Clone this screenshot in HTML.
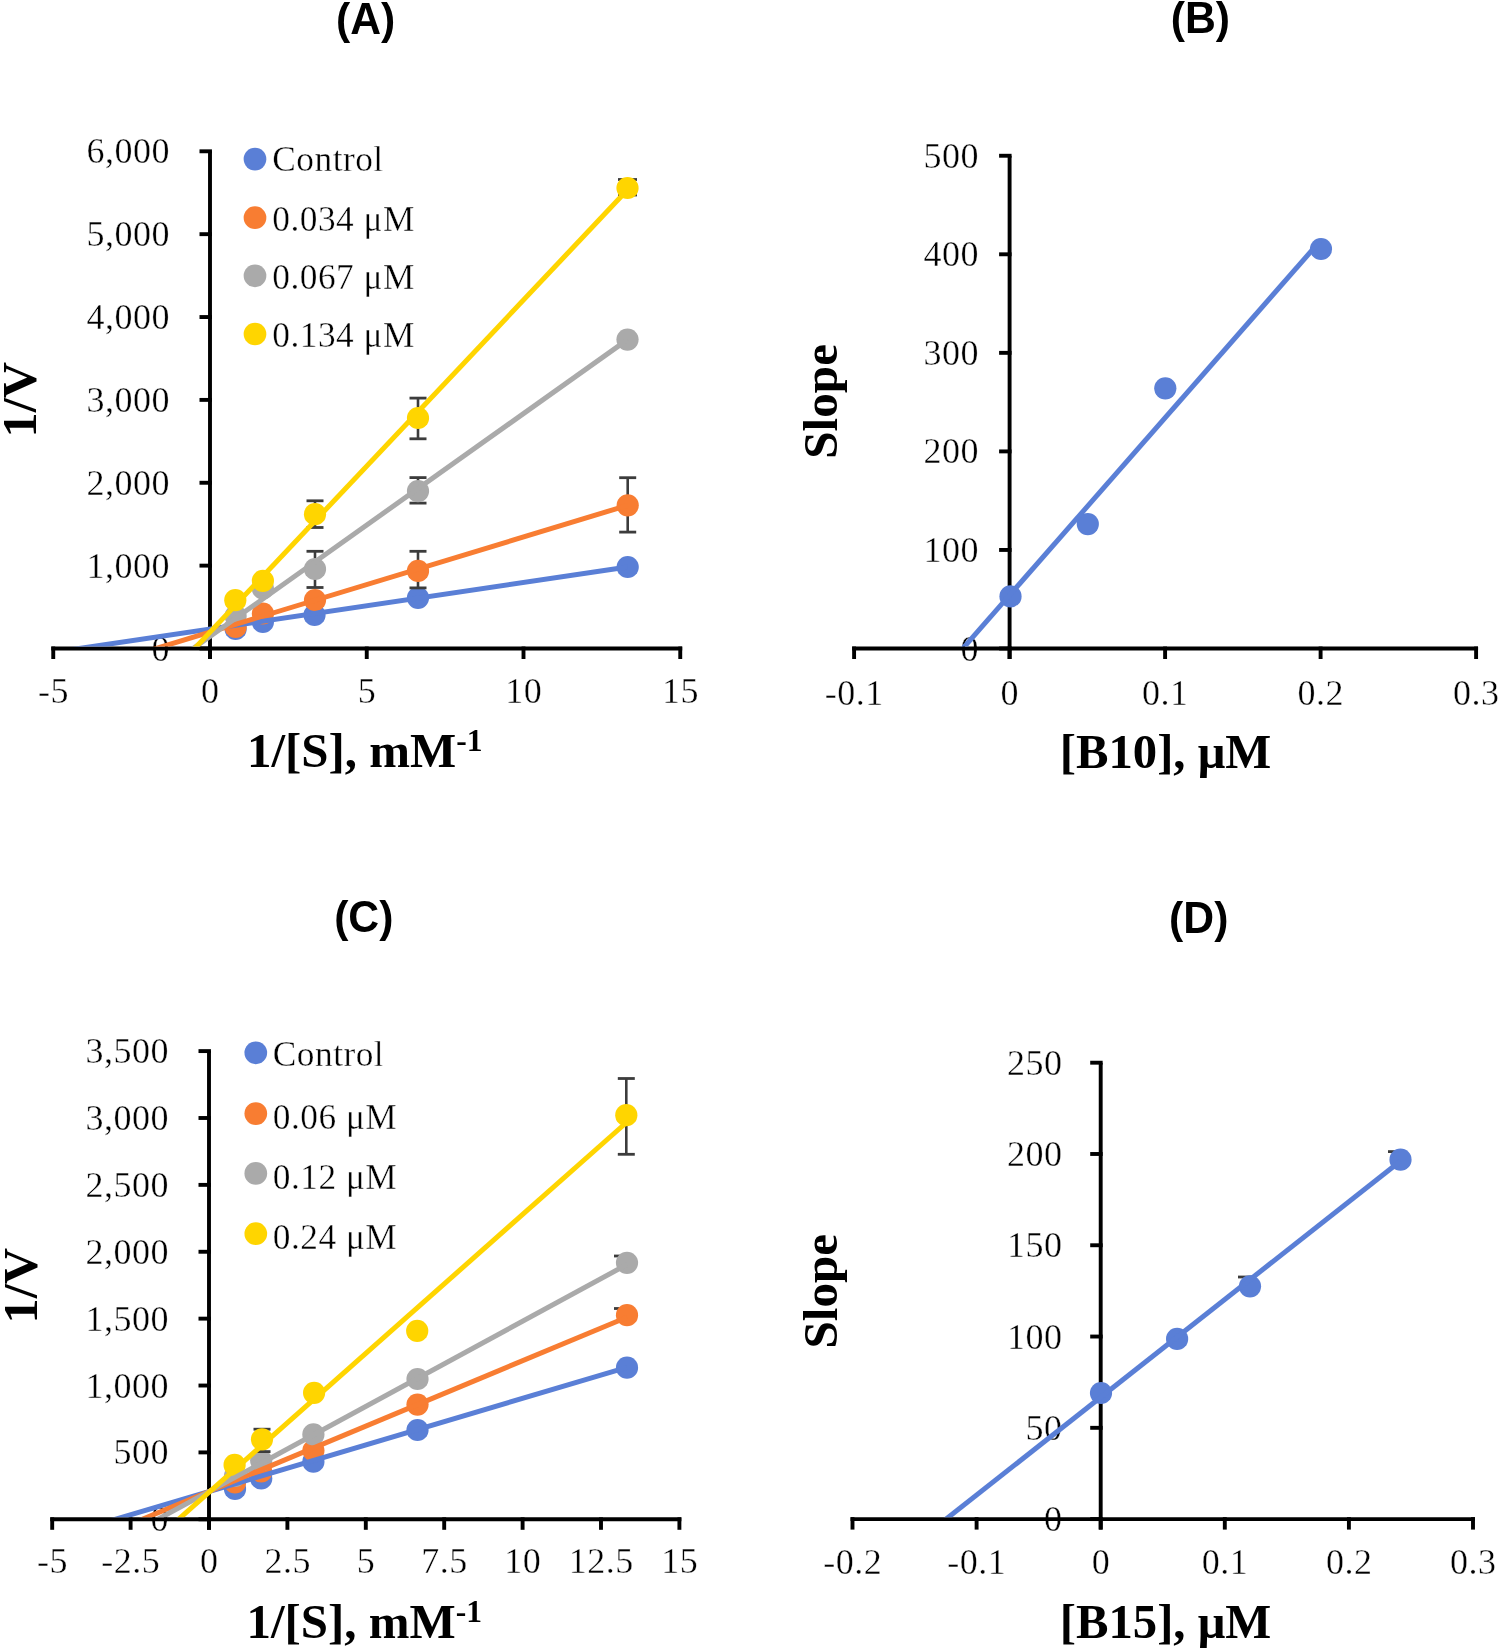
<!DOCTYPE html><html><head><meta charset="utf-8"><style>html,body{margin:0;padding:0;background:#fff;overflow:hidden;}svg{display:block;will-change:transform}</style></head><body>
<svg width="1499" height="1652" viewBox="0 0 1499 1652">
<rect width="1499" height="1652" fill="#fff"/>
<text transform="translate(365.60,33.50) scale(0.95,1)" font-family="'Liberation Sans', sans-serif" font-size="45" text-anchor="middle" font-weight="bold">(A)</text>
<text transform="translate(1200.40,33.00) scale(0.95,1)" font-family="'Liberation Sans', sans-serif" font-size="45" text-anchor="middle" font-weight="bold">(B)</text>
<text transform="translate(363.80,932.30) scale(0.95,1)" font-family="'Liberation Sans', sans-serif" font-size="45" text-anchor="middle" font-weight="bold">(C)</text>
<text transform="translate(1198.70,932.70) scale(0.95,1)" font-family="'Liberation Sans', sans-serif" font-size="45" text-anchor="middle" font-weight="bold">(D)</text>
<text transform="translate(170.00,660.50) scale(1.02,1)" font-family="'Liberation Serif', serif" font-size="35.3" text-anchor="end" letter-spacing="0.5" stroke="#fff" stroke-width="0.35">0</text>
<text transform="translate(170.00,577.63) scale(1.02,1)" font-family="'Liberation Serif', serif" font-size="35.3" text-anchor="end" letter-spacing="0.5" stroke="#fff" stroke-width="0.35">1,000</text>
<text transform="translate(170.00,494.77) scale(1.02,1)" font-family="'Liberation Serif', serif" font-size="35.3" text-anchor="end" letter-spacing="0.5" stroke="#fff" stroke-width="0.35">2,000</text>
<text transform="translate(170.00,411.90) scale(1.02,1)" font-family="'Liberation Serif', serif" font-size="35.3" text-anchor="end" letter-spacing="0.5" stroke="#fff" stroke-width="0.35">3,000</text>
<text transform="translate(170.00,329.03) scale(1.02,1)" font-family="'Liberation Serif', serif" font-size="35.3" text-anchor="end" letter-spacing="0.5" stroke="#fff" stroke-width="0.35">4,000</text>
<text transform="translate(170.00,246.17) scale(1.02,1)" font-family="'Liberation Serif', serif" font-size="35.3" text-anchor="end" letter-spacing="0.5" stroke="#fff" stroke-width="0.35">5,000</text>
<text transform="translate(170.00,163.30) scale(1.02,1)" font-family="'Liberation Serif', serif" font-size="35.3" text-anchor="end" letter-spacing="0.5" stroke="#fff" stroke-width="0.35">6,000</text>
<text transform="translate(53.50,703.00) scale(1.02,1)" font-family="'Liberation Serif', serif" font-size="35.3" text-anchor="middle" letter-spacing="0.5" stroke="#fff" stroke-width="0.35">-5</text>
<text transform="translate(210.25,703.00) scale(1.02,1)" font-family="'Liberation Serif', serif" font-size="35.3" text-anchor="middle" letter-spacing="0.5" stroke="#fff" stroke-width="0.35">0</text>
<text transform="translate(367.00,703.00) scale(1.02,1)" font-family="'Liberation Serif', serif" font-size="35.3" text-anchor="middle" letter-spacing="0.5" stroke="#fff" stroke-width="0.35">5</text>
<text transform="translate(523.75,703.00) scale(1.02,1)" font-family="'Liberation Serif', serif" font-size="35.3" text-anchor="middle" letter-spacing="0.5" stroke="#fff" stroke-width="0.35">10</text>
<text transform="translate(680.50,703.00) scale(1.02,1)" font-family="'Liberation Serif', serif" font-size="35.3" text-anchor="middle" letter-spacing="0.5" stroke="#fff" stroke-width="0.35">15</text>
<line x1="210.00" y1="151.30" x2="210.00" y2="659.00" stroke="#000" stroke-width="3.9" stroke-linecap="butt"/>
<line x1="199.50" y1="648.50" x2="211.95" y2="648.50" stroke="#000" stroke-width="3.9" stroke-linecap="butt"/>
<line x1="199.50" y1="565.63" x2="211.95" y2="565.63" stroke="#000" stroke-width="3.9" stroke-linecap="butt"/>
<line x1="199.50" y1="482.77" x2="211.95" y2="482.77" stroke="#000" stroke-width="3.9" stroke-linecap="butt"/>
<line x1="199.50" y1="399.90" x2="211.95" y2="399.90" stroke="#000" stroke-width="3.9" stroke-linecap="butt"/>
<line x1="199.50" y1="317.03" x2="211.95" y2="317.03" stroke="#000" stroke-width="3.9" stroke-linecap="butt"/>
<line x1="199.50" y1="234.17" x2="211.95" y2="234.17" stroke="#000" stroke-width="3.9" stroke-linecap="butt"/>
<line x1="199.50" y1="151.30" x2="211.95" y2="151.30" stroke="#000" stroke-width="3.9" stroke-linecap="butt"/>
<line x1="51.30" y1="648.50" x2="682.20" y2="648.50" stroke="#000" stroke-width="3.9" stroke-linecap="butt"/>
<line x1="53.25" y1="646.55" x2="53.25" y2="659.00" stroke="#000" stroke-width="3.9" stroke-linecap="butt"/>
<line x1="210.00" y1="646.55" x2="210.00" y2="659.00" stroke="#000" stroke-width="3.9" stroke-linecap="butt"/>
<line x1="366.75" y1="646.55" x2="366.75" y2="659.00" stroke="#000" stroke-width="3.9" stroke-linecap="butt"/>
<line x1="523.50" y1="646.55" x2="523.50" y2="659.00" stroke="#000" stroke-width="3.9" stroke-linecap="butt"/>
<line x1="680.25" y1="646.55" x2="680.25" y2="659.00" stroke="#000" stroke-width="3.9" stroke-linecap="butt"/>
<clipPath id="cA"><rect x="0" y="0" width="1499" height="646.55"/></clipPath>
<circle cx="235.60" cy="629.00" r="11.1" fill="#5a7fd6"/>
<circle cx="262.90" cy="622.00" r="11.1" fill="#5a7fd6"/>
<circle cx="314.50" cy="615.00" r="11.1" fill="#5a7fd6"/>
<circle cx="418.00" cy="597.80" r="11.1" fill="#5a7fd6"/>
<circle cx="627.70" cy="567.00" r="11.1" fill="#5a7fd6"/>
<line x1="627.70" y1="477.70" x2="627.70" y2="532.10" stroke="#3c3c3c" stroke-width="2.6" stroke-linecap="butt"/>
<line x1="619.20" y1="477.70" x2="636.20" y2="477.70" stroke="#3c3c3c" stroke-width="2.8" stroke-linecap="butt"/>
<line x1="619.20" y1="532.10" x2="636.20" y2="532.10" stroke="#3c3c3c" stroke-width="2.8" stroke-linecap="butt"/>
<line x1="418.00" y1="551.30" x2="418.00" y2="587.90" stroke="#3c3c3c" stroke-width="2.6" stroke-linecap="butt"/>
<line x1="409.50" y1="551.30" x2="426.50" y2="551.30" stroke="#3c3c3c" stroke-width="2.8" stroke-linecap="butt"/>
<line x1="409.50" y1="587.90" x2="426.50" y2="587.90" stroke="#3c3c3c" stroke-width="2.8" stroke-linecap="butt"/>
<circle cx="235.60" cy="627.00" r="11.1" fill="#f87d32"/>
<circle cx="262.90" cy="613.50" r="11.1" fill="#f87d32"/>
<circle cx="315.00" cy="600.00" r="11.1" fill="#f87d32"/>
<circle cx="418.00" cy="570.90" r="11.1" fill="#f87d32"/>
<circle cx="627.70" cy="505.30" r="11.1" fill="#f87d32"/>
<line x1="418.00" y1="477.60" x2="418.00" y2="503.10" stroke="#3c3c3c" stroke-width="2.6" stroke-linecap="butt"/>
<line x1="409.50" y1="477.60" x2="426.50" y2="477.60" stroke="#3c3c3c" stroke-width="2.8" stroke-linecap="butt"/>
<line x1="409.50" y1="503.10" x2="426.50" y2="503.10" stroke="#3c3c3c" stroke-width="2.8" stroke-linecap="butt"/>
<line x1="315.00" y1="551.30" x2="315.00" y2="587.50" stroke="#3c3c3c" stroke-width="2.6" stroke-linecap="butt"/>
<line x1="306.50" y1="551.30" x2="323.50" y2="551.30" stroke="#3c3c3c" stroke-width="2.8" stroke-linecap="butt"/>
<line x1="306.50" y1="587.50" x2="323.50" y2="587.50" stroke="#3c3c3c" stroke-width="2.8" stroke-linecap="butt"/>
<circle cx="235.60" cy="616.00" r="11.1" fill="#aaaaaa"/>
<circle cx="262.90" cy="588.50" r="11.1" fill="#aaaaaa"/>
<circle cx="315.00" cy="569.00" r="11.1" fill="#aaaaaa"/>
<circle cx="418.00" cy="491.10" r="11.1" fill="#aaaaaa"/>
<circle cx="627.50" cy="339.60" r="11.1" fill="#aaaaaa"/>
<line x1="627.50" y1="179.50" x2="627.50" y2="195.00" stroke="#3c3c3c" stroke-width="2.6" stroke-linecap="butt"/>
<line x1="618.00" y1="179.50" x2="637.00" y2="179.50" stroke="#3c3c3c" stroke-width="2.8" stroke-linecap="butt"/>
<line x1="618.00" y1="195.00" x2="637.00" y2="195.00" stroke="#3c3c3c" stroke-width="2.8" stroke-linecap="butt"/>
<line x1="418.00" y1="398.10" x2="418.00" y2="438.80" stroke="#3c3c3c" stroke-width="2.6" stroke-linecap="butt"/>
<line x1="409.50" y1="398.10" x2="426.50" y2="398.10" stroke="#3c3c3c" stroke-width="2.8" stroke-linecap="butt"/>
<line x1="409.50" y1="438.80" x2="426.50" y2="438.80" stroke="#3c3c3c" stroke-width="2.8" stroke-linecap="butt"/>
<line x1="315.00" y1="500.80" x2="315.00" y2="527.50" stroke="#3c3c3c" stroke-width="2.6" stroke-linecap="butt"/>
<line x1="306.50" y1="500.80" x2="323.50" y2="500.80" stroke="#3c3c3c" stroke-width="2.8" stroke-linecap="butt"/>
<line x1="306.50" y1="527.50" x2="323.50" y2="527.50" stroke="#3c3c3c" stroke-width="2.8" stroke-linecap="butt"/>
<circle cx="235.30" cy="600.20" r="11.1" fill="#ffd500"/>
<circle cx="262.90" cy="580.80" r="11.1" fill="#ffd500"/>
<circle cx="315.00" cy="514.20" r="11.1" fill="#ffd500"/>
<circle cx="418.00" cy="418.00" r="11.1" fill="#ffd500"/>
<circle cx="627.50" cy="188.00" r="11.1" fill="#ffd500"/>
<line x1="25.14" y1="656.50" x2="627.70" y2="567.00" stroke="#5a7fd6" stroke-width="5.0" stroke-linecap="butt" clip-path="url(#cA)"/>
<line x1="129.65" y1="656.50" x2="627.70" y2="505.30" stroke="#f87d32" stroke-width="5.0" stroke-linecap="butt" clip-path="url(#cA)"/>
<line x1="181.85" y1="656.50" x2="627.50" y2="339.60" stroke="#aaaaaa" stroke-width="5.0" stroke-linecap="butt" clip-path="url(#cA)"/>
<line x1="187.05" y1="656.50" x2="627.50" y2="189.80" stroke="#ffd500" stroke-width="5.0" stroke-linecap="butt" clip-path="url(#cA)"/>
<circle cx="255.00" cy="159.10" r="11.35" fill="#5a7fd6"/>
<text transform="translate(272.30,170.80) scale(1.0,1)" font-family="'Liberation Serif', serif" font-size="35.3" text-anchor="start" letter-spacing="0.5" stroke="#fff" stroke-width="0.35">Control</text>
<circle cx="255.00" cy="217.70" r="11.35" fill="#f87d32"/>
<text transform="translate(272.30,230.90) scale(1.0,1)" font-family="'Liberation Serif', serif" font-size="35.3" text-anchor="start" letter-spacing="0.5" stroke="#fff" stroke-width="0.35">0.034 μM</text>
<circle cx="255.00" cy="275.80" r="11.35" fill="#aaaaaa"/>
<text transform="translate(272.30,289.30) scale(1.0,1)" font-family="'Liberation Serif', serif" font-size="35.3" text-anchor="start" letter-spacing="0.5" stroke="#fff" stroke-width="0.35">0.067 μM</text>
<circle cx="255.00" cy="334.00" r="11.35" fill="#ffd500"/>
<text transform="translate(272.30,347.30) scale(1.0,1)" font-family="'Liberation Serif', serif" font-size="35.3" text-anchor="start" letter-spacing="0.5" stroke="#fff" stroke-width="0.35">0.134 μM</text>
<text transform="translate(364.80,767.20) scale(1.02,1)" font-family="'Liberation Serif', serif" font-size="48" text-anchor="middle" font-weight="bold">1/[S], mM<tspan font-size="31" dy="-16">-1</tspan></text>
<text transform="translate(35.80,399.60) rotate(-90) scale(1.05,1)" font-family="'Liberation Serif', serif" font-size="48" text-anchor="middle" font-weight="bold">1/V</text>
<text transform="translate(169.00,1531.30) scale(1.02,1)" font-family="'Liberation Serif', serif" font-size="35.3" text-anchor="end" letter-spacing="0.5" stroke="#fff" stroke-width="0.35">0</text>
<text transform="translate(169.00,1464.41) scale(1.02,1)" font-family="'Liberation Serif', serif" font-size="35.3" text-anchor="end" letter-spacing="0.5" stroke="#fff" stroke-width="0.35">500</text>
<text transform="translate(169.00,1397.53) scale(1.02,1)" font-family="'Liberation Serif', serif" font-size="35.3" text-anchor="end" letter-spacing="0.5" stroke="#fff" stroke-width="0.35">1,000</text>
<text transform="translate(169.00,1330.64) scale(1.02,1)" font-family="'Liberation Serif', serif" font-size="35.3" text-anchor="end" letter-spacing="0.5" stroke="#fff" stroke-width="0.35">1,500</text>
<text transform="translate(169.00,1263.76) scale(1.02,1)" font-family="'Liberation Serif', serif" font-size="35.3" text-anchor="end" letter-spacing="0.5" stroke="#fff" stroke-width="0.35">2,000</text>
<text transform="translate(169.00,1196.87) scale(1.02,1)" font-family="'Liberation Serif', serif" font-size="35.3" text-anchor="end" letter-spacing="0.5" stroke="#fff" stroke-width="0.35">2,500</text>
<text transform="translate(169.00,1129.99) scale(1.02,1)" font-family="'Liberation Serif', serif" font-size="35.3" text-anchor="end" letter-spacing="0.5" stroke="#fff" stroke-width="0.35">3,000</text>
<text transform="translate(169.00,1063.10) scale(1.02,1)" font-family="'Liberation Serif', serif" font-size="35.3" text-anchor="end" letter-spacing="0.5" stroke="#fff" stroke-width="0.35">3,500</text>
<text transform="translate(52.45,1573.20) scale(1.02,1)" font-family="'Liberation Serif', serif" font-size="35.3" text-anchor="middle" letter-spacing="0.5" stroke="#fff" stroke-width="0.35">-5</text>
<text transform="translate(130.85,1573.20) scale(1.02,1)" font-family="'Liberation Serif', serif" font-size="35.3" text-anchor="middle" letter-spacing="0.5" stroke="#fff" stroke-width="0.35">-2.5</text>
<text transform="translate(209.25,1573.20) scale(1.02,1)" font-family="'Liberation Serif', serif" font-size="35.3" text-anchor="middle" letter-spacing="0.5" stroke="#fff" stroke-width="0.35">0</text>
<text transform="translate(287.65,1573.20) scale(1.02,1)" font-family="'Liberation Serif', serif" font-size="35.3" text-anchor="middle" letter-spacing="0.5" stroke="#fff" stroke-width="0.35">2.5</text>
<text transform="translate(366.05,1573.20) scale(1.02,1)" font-family="'Liberation Serif', serif" font-size="35.3" text-anchor="middle" letter-spacing="0.5" stroke="#fff" stroke-width="0.35">5</text>
<text transform="translate(444.45,1573.20) scale(1.02,1)" font-family="'Liberation Serif', serif" font-size="35.3" text-anchor="middle" letter-spacing="0.5" stroke="#fff" stroke-width="0.35">7.5</text>
<text transform="translate(522.85,1573.20) scale(1.02,1)" font-family="'Liberation Serif', serif" font-size="35.3" text-anchor="middle" letter-spacing="0.5" stroke="#fff" stroke-width="0.35">10</text>
<text transform="translate(601.25,1573.20) scale(1.02,1)" font-family="'Liberation Serif', serif" font-size="35.3" text-anchor="middle" letter-spacing="0.5" stroke="#fff" stroke-width="0.35">12.5</text>
<text transform="translate(679.65,1573.20) scale(1.02,1)" font-family="'Liberation Serif', serif" font-size="35.3" text-anchor="middle" letter-spacing="0.5" stroke="#fff" stroke-width="0.35">15</text>
<line x1="209.00" y1="1051.10" x2="209.00" y2="1529.80" stroke="#000" stroke-width="3.9" stroke-linecap="butt"/>
<line x1="198.50" y1="1519.30" x2="210.95" y2="1519.30" stroke="#000" stroke-width="3.9" stroke-linecap="butt"/>
<line x1="198.50" y1="1452.41" x2="210.95" y2="1452.41" stroke="#000" stroke-width="3.9" stroke-linecap="butt"/>
<line x1="198.50" y1="1385.53" x2="210.95" y2="1385.53" stroke="#000" stroke-width="3.9" stroke-linecap="butt"/>
<line x1="198.50" y1="1318.64" x2="210.95" y2="1318.64" stroke="#000" stroke-width="3.9" stroke-linecap="butt"/>
<line x1="198.50" y1="1251.76" x2="210.95" y2="1251.76" stroke="#000" stroke-width="3.9" stroke-linecap="butt"/>
<line x1="198.50" y1="1184.87" x2="210.95" y2="1184.87" stroke="#000" stroke-width="3.9" stroke-linecap="butt"/>
<line x1="198.50" y1="1117.99" x2="210.95" y2="1117.99" stroke="#000" stroke-width="3.9" stroke-linecap="butt"/>
<line x1="198.50" y1="1051.10" x2="210.95" y2="1051.10" stroke="#000" stroke-width="3.9" stroke-linecap="butt"/>
<line x1="50.25" y1="1519.30" x2="681.35" y2="1519.30" stroke="#000" stroke-width="3.9" stroke-linecap="butt"/>
<line x1="52.20" y1="1517.35" x2="52.20" y2="1529.80" stroke="#000" stroke-width="3.9" stroke-linecap="butt"/>
<line x1="130.60" y1="1517.35" x2="130.60" y2="1529.80" stroke="#000" stroke-width="3.9" stroke-linecap="butt"/>
<line x1="209.00" y1="1517.35" x2="209.00" y2="1529.80" stroke="#000" stroke-width="3.9" stroke-linecap="butt"/>
<line x1="287.40" y1="1517.35" x2="287.40" y2="1529.80" stroke="#000" stroke-width="3.9" stroke-linecap="butt"/>
<line x1="365.80" y1="1517.35" x2="365.80" y2="1529.80" stroke="#000" stroke-width="3.9" stroke-linecap="butt"/>
<line x1="444.20" y1="1517.35" x2="444.20" y2="1529.80" stroke="#000" stroke-width="3.9" stroke-linecap="butt"/>
<line x1="522.60" y1="1517.35" x2="522.60" y2="1529.80" stroke="#000" stroke-width="3.9" stroke-linecap="butt"/>
<line x1="601.00" y1="1517.35" x2="601.00" y2="1529.80" stroke="#000" stroke-width="3.9" stroke-linecap="butt"/>
<line x1="679.40" y1="1517.35" x2="679.40" y2="1529.80" stroke="#000" stroke-width="3.9" stroke-linecap="butt"/>
<clipPath id="cC"><rect x="0" y="0" width="1499" height="1517.35"/></clipPath>
<circle cx="235.00" cy="1488.90" r="11.1" fill="#5a7fd6"/>
<circle cx="261.20" cy="1478.50" r="11.1" fill="#5a7fd6"/>
<circle cx="313.40" cy="1461.70" r="11.1" fill="#5a7fd6"/>
<circle cx="417.50" cy="1430.00" r="11.1" fill="#5a7fd6"/>
<circle cx="627.00" cy="1367.70" r="11.1" fill="#5a7fd6"/>
<line x1="622.00" y1="1308.50" x2="622.00" y2="1318.00" stroke="#3c3c3c" stroke-width="2.6" stroke-linecap="butt"/>
<line x1="614.00" y1="1308.50" x2="630.00" y2="1308.50" stroke="#3c3c3c" stroke-width="2.8" stroke-linecap="butt"/>
<circle cx="235.00" cy="1482.50" r="11.1" fill="#f87d32"/>
<circle cx="261.20" cy="1471.50" r="11.1" fill="#f87d32"/>
<circle cx="313.40" cy="1450.50" r="11.1" fill="#f87d32"/>
<circle cx="417.50" cy="1404.60" r="11.1" fill="#f87d32"/>
<circle cx="627.00" cy="1315.20" r="11.1" fill="#f87d32"/>
<line x1="622.00" y1="1256.00" x2="622.00" y2="1266.00" stroke="#3c3c3c" stroke-width="2.6" stroke-linecap="butt"/>
<line x1="614.00" y1="1256.00" x2="630.00" y2="1256.00" stroke="#3c3c3c" stroke-width="2.8" stroke-linecap="butt"/>
<circle cx="235.00" cy="1476.00" r="11.1" fill="#aaaaaa"/>
<circle cx="261.20" cy="1460.50" r="11.1" fill="#aaaaaa"/>
<circle cx="313.40" cy="1434.40" r="11.1" fill="#aaaaaa"/>
<circle cx="417.50" cy="1379.00" r="11.1" fill="#aaaaaa"/>
<circle cx="627.00" cy="1262.80" r="11.1" fill="#aaaaaa"/>
<line x1="626.30" y1="1078.50" x2="626.30" y2="1154.30" stroke="#3c3c3c" stroke-width="2.6" stroke-linecap="butt"/>
<line x1="617.80" y1="1078.50" x2="634.80" y2="1078.50" stroke="#3c3c3c" stroke-width="2.8" stroke-linecap="butt"/>
<line x1="617.80" y1="1154.30" x2="634.80" y2="1154.30" stroke="#3c3c3c" stroke-width="2.8" stroke-linecap="butt"/>
<line x1="262.00" y1="1429.20" x2="262.00" y2="1451.60" stroke="#3c3c3c" stroke-width="2.6" stroke-linecap="butt"/>
<line x1="253.50" y1="1429.20" x2="270.50" y2="1429.20" stroke="#3c3c3c" stroke-width="2.8" stroke-linecap="butt"/>
<line x1="253.50" y1="1451.60" x2="270.50" y2="1451.60" stroke="#3c3c3c" stroke-width="2.8" stroke-linecap="butt"/>
<circle cx="234.60" cy="1464.90" r="11.1" fill="#ffd500"/>
<circle cx="262.00" cy="1439.30" r="11.1" fill="#ffd500"/>
<circle cx="314.10" cy="1392.80" r="11.1" fill="#ffd500"/>
<circle cx="417.20" cy="1330.90" r="11.1" fill="#ffd500"/>
<circle cx="626.30" cy="1115.20" r="11.1" fill="#ffd500"/>
<line x1="88.35" y1="1527.30" x2="627.00" y2="1367.40" stroke="#5a7fd6" stroke-width="5.0" stroke-linecap="butt" clip-path="url(#cC)"/>
<line x1="123.11" y1="1527.30" x2="627.00" y2="1317.20" stroke="#f87d32" stroke-width="5.0" stroke-linecap="butt" clip-path="url(#cC)"/>
<line x1="143.07" y1="1527.30" x2="627.00" y2="1264.50" stroke="#aaaaaa" stroke-width="5.0" stroke-linecap="butt" clip-path="url(#cC)"/>
<line x1="169.47" y1="1527.30" x2="627.00" y2="1122.00" stroke="#ffd500" stroke-width="5.0" stroke-linecap="butt" clip-path="url(#cC)"/>
<circle cx="255.80" cy="1052.80" r="11.35" fill="#5a7fd6"/>
<text transform="translate(272.80,1066.00) scale(1.0,1)" font-family="'Liberation Serif', serif" font-size="35.3" text-anchor="start" letter-spacing="0.5" stroke="#fff" stroke-width="0.35">Control</text>
<circle cx="255.80" cy="1113.60" r="11.35" fill="#f87d32"/>
<text transform="translate(272.80,1128.50) scale(1.0,1)" font-family="'Liberation Serif', serif" font-size="35.3" text-anchor="start" letter-spacing="0.5" stroke="#fff" stroke-width="0.35">0.06 μM</text>
<circle cx="255.80" cy="1173.40" r="11.35" fill="#aaaaaa"/>
<text transform="translate(272.80,1188.60) scale(1.0,1)" font-family="'Liberation Serif', serif" font-size="35.3" text-anchor="start" letter-spacing="0.5" stroke="#fff" stroke-width="0.35">0.12 μM</text>
<circle cx="255.80" cy="1233.70" r="11.35" fill="#ffd500"/>
<text transform="translate(272.80,1248.70) scale(1.0,1)" font-family="'Liberation Serif', serif" font-size="35.3" text-anchor="start" letter-spacing="0.5" stroke="#fff" stroke-width="0.35">0.24 μM</text>
<text transform="translate(364.30,1637.60) scale(1.02,1)" font-family="'Liberation Serif', serif" font-size="48" text-anchor="middle" font-weight="bold">1/[S], mM<tspan font-size="31" dy="-16">-1</tspan></text>
<text transform="translate(36.60,1285.70) rotate(-90) scale(1.05,1)" font-family="'Liberation Serif', serif" font-size="48" text-anchor="middle" font-weight="bold">1/V</text>
<text transform="translate(979.00,660.50) scale(1.02,1)" font-family="'Liberation Serif', serif" font-size="35.3" text-anchor="end" letter-spacing="0.5" stroke="#fff" stroke-width="0.35">0</text>
<text transform="translate(979.00,561.95) scale(1.02,1)" font-family="'Liberation Serif', serif" font-size="35.3" text-anchor="end" letter-spacing="0.5" stroke="#fff" stroke-width="0.35">100</text>
<text transform="translate(979.00,463.40) scale(1.02,1)" font-family="'Liberation Serif', serif" font-size="35.3" text-anchor="end" letter-spacing="0.5" stroke="#fff" stroke-width="0.35">200</text>
<text transform="translate(979.00,364.85) scale(1.02,1)" font-family="'Liberation Serif', serif" font-size="35.3" text-anchor="end" letter-spacing="0.5" stroke="#fff" stroke-width="0.35">300</text>
<text transform="translate(979.00,266.30) scale(1.02,1)" font-family="'Liberation Serif', serif" font-size="35.3" text-anchor="end" letter-spacing="0.5" stroke="#fff" stroke-width="0.35">400</text>
<text transform="translate(979.00,167.75) scale(1.02,1)" font-family="'Liberation Serif', serif" font-size="35.3" text-anchor="end" letter-spacing="0.5" stroke="#fff" stroke-width="0.35">500</text>
<text transform="translate(854.35,704.50) scale(1.02,1)" font-family="'Liberation Serif', serif" font-size="35.3" text-anchor="middle" letter-spacing="0.5" stroke="#fff" stroke-width="0.35">-0.1</text>
<text transform="translate(1009.85,704.50) scale(1.02,1)" font-family="'Liberation Serif', serif" font-size="35.3" text-anchor="middle" letter-spacing="0.5" stroke="#fff" stroke-width="0.35">0</text>
<text transform="translate(1165.35,704.50) scale(1.02,1)" font-family="'Liberation Serif', serif" font-size="35.3" text-anchor="middle" letter-spacing="0.5" stroke="#fff" stroke-width="0.35">0.1</text>
<text transform="translate(1320.85,704.50) scale(1.02,1)" font-family="'Liberation Serif', serif" font-size="35.3" text-anchor="middle" letter-spacing="0.5" stroke="#fff" stroke-width="0.35">0.2</text>
<text transform="translate(1476.35,704.50) scale(1.02,1)" font-family="'Liberation Serif', serif" font-size="35.3" text-anchor="middle" letter-spacing="0.5" stroke="#fff" stroke-width="0.35">0.3</text>
<line x1="1009.60" y1="155.75" x2="1009.60" y2="659.00" stroke="#000" stroke-width="3.9" stroke-linecap="butt"/>
<line x1="999.10" y1="648.50" x2="1011.55" y2="648.50" stroke="#000" stroke-width="3.9" stroke-linecap="butt"/>
<line x1="999.10" y1="549.95" x2="1011.55" y2="549.95" stroke="#000" stroke-width="3.9" stroke-linecap="butt"/>
<line x1="999.10" y1="451.40" x2="1011.55" y2="451.40" stroke="#000" stroke-width="3.9" stroke-linecap="butt"/>
<line x1="999.10" y1="352.85" x2="1011.55" y2="352.85" stroke="#000" stroke-width="3.9" stroke-linecap="butt"/>
<line x1="999.10" y1="254.30" x2="1011.55" y2="254.30" stroke="#000" stroke-width="3.9" stroke-linecap="butt"/>
<line x1="999.10" y1="155.75" x2="1011.55" y2="155.75" stroke="#000" stroke-width="3.9" stroke-linecap="butt"/>
<line x1="852.15" y1="648.50" x2="1478.05" y2="648.50" stroke="#000" stroke-width="3.9" stroke-linecap="butt"/>
<line x1="854.10" y1="646.55" x2="854.10" y2="659.00" stroke="#000" stroke-width="3.9" stroke-linecap="butt"/>
<line x1="1009.60" y1="646.55" x2="1009.60" y2="659.00" stroke="#000" stroke-width="3.9" stroke-linecap="butt"/>
<line x1="1165.10" y1="646.55" x2="1165.10" y2="659.00" stroke="#000" stroke-width="3.9" stroke-linecap="butt"/>
<line x1="1320.60" y1="646.55" x2="1320.60" y2="659.00" stroke="#000" stroke-width="3.9" stroke-linecap="butt"/>
<line x1="1476.10" y1="646.55" x2="1476.10" y2="659.00" stroke="#000" stroke-width="3.9" stroke-linecap="butt"/>
<clipPath id="cB"><rect x="0" y="0" width="1499" height="646.55"/></clipPath>
<circle cx="1010.50" cy="596.40" r="11.1" fill="#5a7fd6"/>
<circle cx="1087.80" cy="524.10" r="11.1" fill="#5a7fd6"/>
<circle cx="1165.30" cy="388.30" r="11.1" fill="#5a7fd6"/>
<circle cx="1321.00" cy="249.00" r="11.1" fill="#5a7fd6"/>
<line x1="955.79" y1="656.50" x2="1321.00" y2="240.00" stroke="#5a7fd6" stroke-width="5.0" stroke-linecap="butt" clip-path="url(#cB)"/>
<text transform="translate(1165.50,768.40) scale(1.015,1)" font-family="'Liberation Serif', serif" font-size="48" text-anchor="middle" font-weight="bold">[B10], μM</text>
<text transform="translate(837.00,401.40) rotate(-90) scale(1.024,1)" font-family="'Liberation Serif', serif" font-size="48" text-anchor="middle" font-weight="bold">Slope</text>
<text transform="translate(1062.50,1531.10) scale(1.02,1)" font-family="'Liberation Serif', serif" font-size="35.3" text-anchor="end" letter-spacing="0.5" stroke="#fff" stroke-width="0.35">0</text>
<text transform="translate(1062.50,1439.82) scale(1.02,1)" font-family="'Liberation Serif', serif" font-size="35.3" text-anchor="end" letter-spacing="0.5" stroke="#fff" stroke-width="0.35">50</text>
<text transform="translate(1062.50,1348.54) scale(1.02,1)" font-family="'Liberation Serif', serif" font-size="35.3" text-anchor="end" letter-spacing="0.5" stroke="#fff" stroke-width="0.35">100</text>
<text transform="translate(1062.50,1257.26) scale(1.02,1)" font-family="'Liberation Serif', serif" font-size="35.3" text-anchor="end" letter-spacing="0.5" stroke="#fff" stroke-width="0.35">150</text>
<text transform="translate(1062.50,1165.98) scale(1.02,1)" font-family="'Liberation Serif', serif" font-size="35.3" text-anchor="end" letter-spacing="0.5" stroke="#fff" stroke-width="0.35">200</text>
<text transform="translate(1062.50,1074.70) scale(1.02,1)" font-family="'Liberation Serif', serif" font-size="35.3" text-anchor="end" letter-spacing="0.5" stroke="#fff" stroke-width="0.35">250</text>
<text transform="translate(852.75,1573.50) scale(1.02,1)" font-family="'Liberation Serif', serif" font-size="35.3" text-anchor="middle" letter-spacing="0.5" stroke="#fff" stroke-width="0.35">-0.2</text>
<text transform="translate(976.85,1573.50) scale(1.02,1)" font-family="'Liberation Serif', serif" font-size="35.3" text-anchor="middle" letter-spacing="0.5" stroke="#fff" stroke-width="0.35">-0.1</text>
<text transform="translate(1100.95,1573.50) scale(1.02,1)" font-family="'Liberation Serif', serif" font-size="35.3" text-anchor="middle" letter-spacing="0.5" stroke="#fff" stroke-width="0.35">0</text>
<text transform="translate(1225.05,1573.50) scale(1.02,1)" font-family="'Liberation Serif', serif" font-size="35.3" text-anchor="middle" letter-spacing="0.5" stroke="#fff" stroke-width="0.35">0.1</text>
<text transform="translate(1349.15,1573.50) scale(1.02,1)" font-family="'Liberation Serif', serif" font-size="35.3" text-anchor="middle" letter-spacing="0.5" stroke="#fff" stroke-width="0.35">0.2</text>
<text transform="translate(1473.25,1573.50) scale(1.02,1)" font-family="'Liberation Serif', serif" font-size="35.3" text-anchor="middle" letter-spacing="0.5" stroke="#fff" stroke-width="0.35">0.3</text>
<line x1="1100.70" y1="1062.70" x2="1100.70" y2="1529.60" stroke="#000" stroke-width="3.9" stroke-linecap="butt"/>
<line x1="1090.20" y1="1519.10" x2="1102.65" y2="1519.10" stroke="#000" stroke-width="3.9" stroke-linecap="butt"/>
<line x1="1090.20" y1="1427.82" x2="1102.65" y2="1427.82" stroke="#000" stroke-width="3.9" stroke-linecap="butt"/>
<line x1="1090.20" y1="1336.54" x2="1102.65" y2="1336.54" stroke="#000" stroke-width="3.9" stroke-linecap="butt"/>
<line x1="1090.20" y1="1245.26" x2="1102.65" y2="1245.26" stroke="#000" stroke-width="3.9" stroke-linecap="butt"/>
<line x1="1090.20" y1="1153.98" x2="1102.65" y2="1153.98" stroke="#000" stroke-width="3.9" stroke-linecap="butt"/>
<line x1="1090.20" y1="1062.70" x2="1102.65" y2="1062.70" stroke="#000" stroke-width="3.9" stroke-linecap="butt"/>
<line x1="850.55" y1="1519.10" x2="1474.95" y2="1519.10" stroke="#000" stroke-width="3.9" stroke-linecap="butt"/>
<line x1="852.50" y1="1517.15" x2="852.50" y2="1529.60" stroke="#000" stroke-width="3.9" stroke-linecap="butt"/>
<line x1="976.60" y1="1517.15" x2="976.60" y2="1529.60" stroke="#000" stroke-width="3.9" stroke-linecap="butt"/>
<line x1="1100.70" y1="1517.15" x2="1100.70" y2="1529.60" stroke="#000" stroke-width="3.9" stroke-linecap="butt"/>
<line x1="1224.80" y1="1517.15" x2="1224.80" y2="1529.60" stroke="#000" stroke-width="3.9" stroke-linecap="butt"/>
<line x1="1348.90" y1="1517.15" x2="1348.90" y2="1529.60" stroke="#000" stroke-width="3.9" stroke-linecap="butt"/>
<line x1="1473.00" y1="1517.15" x2="1473.00" y2="1529.60" stroke="#000" stroke-width="3.9" stroke-linecap="butt"/>
<clipPath id="cD"><rect x="0" y="0" width="1499" height="1517.15"/></clipPath>
<line x1="1247.00" y1="1277.00" x2="1247.00" y2="1290.00" stroke="#3c3c3c" stroke-width="2.6" stroke-linecap="butt"/>
<line x1="1238.00" y1="1277.00" x2="1256.00" y2="1277.00" stroke="#3c3c3c" stroke-width="2.8" stroke-linecap="butt"/>
<line x1="1397.00" y1="1151.60" x2="1397.00" y2="1165.00" stroke="#3c3c3c" stroke-width="2.6" stroke-linecap="butt"/>
<line x1="1388.00" y1="1151.60" x2="1406.00" y2="1151.60" stroke="#3c3c3c" stroke-width="2.8" stroke-linecap="butt"/>
<circle cx="1101.00" cy="1393.00" r="11.1" fill="#5a7fd6"/>
<circle cx="1177.10" cy="1338.90" r="11.1" fill="#5a7fd6"/>
<circle cx="1250.00" cy="1286.30" r="11.1" fill="#5a7fd6"/>
<circle cx="1400.50" cy="1159.70" r="11.1" fill="#5a7fd6"/>
<line x1="935.85" y1="1527.10" x2="1400.50" y2="1161.00" stroke="#5a7fd6" stroke-width="5.0" stroke-linecap="butt" clip-path="url(#cD)"/>
<text transform="translate(1165.50,1638.40) scale(1.015,1)" font-family="'Liberation Serif', serif" font-size="48" text-anchor="middle" font-weight="bold">[B15], μM</text>
<text transform="translate(837.00,1291.20) rotate(-90) scale(1.024,1)" font-family="'Liberation Serif', serif" font-size="48" text-anchor="middle" font-weight="bold">Slope</text>
</svg></body></html>
